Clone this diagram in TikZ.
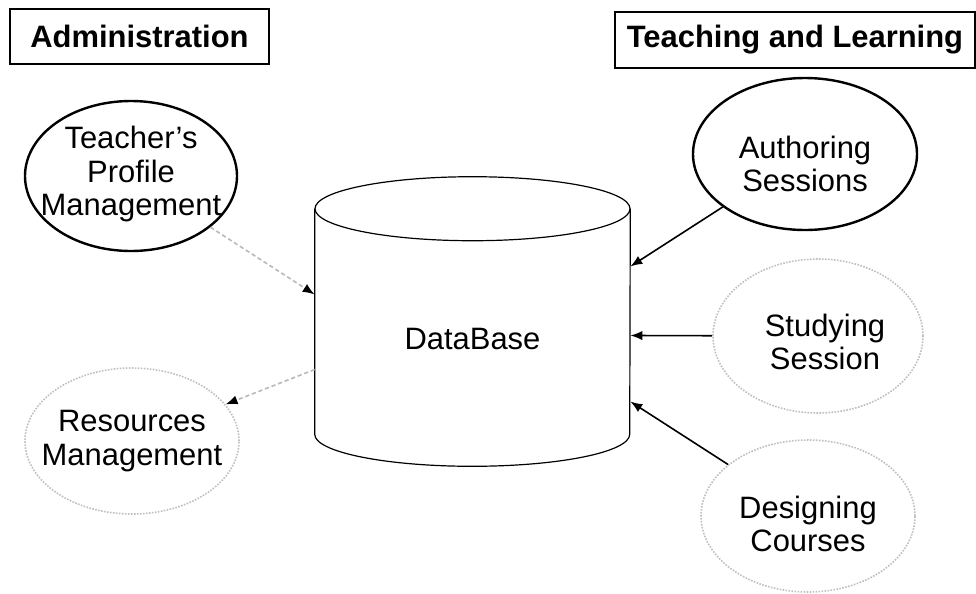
\documentclass[tikz,border=0pt]{standalone}
\usepackage{fontspec}
\setmainfont{Liberation Sans}
\usetikzlibrary{arrows.meta, shapes.geometric}

\begin{document}
\begin{tikzpicture}[x=0.25mm, y=-0.25mm,
		every node/.style={font=\fontsize{22}{24}\selectfont, align=center},
		heading/.style={draw, line width=0.5mm, inner sep=0pt, font=\fontsize{22}{24}\selectfont\bfseries},
		task/.style={ellipse, draw, line width=0.6mm, inner sep=0pt, minimum width=53mm, minimum height=37.5mm},
		faded/.style={task, draw=gray!50, line width=0.4mm, densely dotted},
		link/.style={line width=0.4mm, -{Latex[length=3mm, width=2.3mm]}},
		weak/.style={line width=0.4mm, draw=gray!55, densely dashed, -{Latex[length=3mm, width=2.3mm, color=black]}}]
	\useasboundingbox (0,0) rectangle (976,593);

	\node [heading, minimum width=64.75mm, minimum height=13.75mm] (adm) at (139.5,36.5) {Administration};
	\node [heading, minimum width=90mm, minimum height=14mm] (tl) at (795,40) {Teaching and Learning};

	% the database cylinder
	\node [inner sep=0pt, minimum width=78.75mm, minimum height=56.25mm,
		label={[yshift=-4.5mm]center:DataBase}] (db) at (472.5,321.5) {};
	\draw [line width=0.3mm] (db.north west) -- (db.south west)
		arc [start angle=180, end angle=360, x radius=39.375mm, y radius=8mm] -- (db.north east);
	\draw [line width=0.3mm] (db.north) ellipse [x radius=39.375mm, y radius=8mm];

	% administration side
	\node [task, label={[yshift=0.5mm]center:Teacher's\\Profile\\Management}] (tpm) at (131,176) {};
	\node [faded, minimum width=53.5mm, minimum height=36.5mm, label={center:Resources\\Management}] (res) at (132,441) {};

	% teaching and learning side
	\node [task, minimum width=56mm, minimum height=38mm, label={[yshift=-2.5mm]center:Authoring\\Sessions}] (aut) at (805,154) {};
	\node [faded, minimum width=52.5mm, minimum height=38.5mm, label={[xshift=1.75mm, yshift=-1.5mm]center:Studying\\Session}] (stu) at (818,336) {};
	\node [faded, minimum width=53.5mm, minimum height=38mm, label={[yshift=-2mm]center:Designing\\Courses}] (des) at (808,516) {};

	\draw [weak] (tpm) -- ([yshift=6.75mm]db.west);
	\draw [weak] ([yshift=-12mm]db.west) -- (res);
	\draw [link] (aut) -- ([yshift=13.75mm]db.east);
	\draw [link] (stu) -- ([yshift=-3.5mm]db.east);
	\draw [link] (des) -- ([yshift=-20mm]db.east);
\end{tikzpicture}
\end{document}
